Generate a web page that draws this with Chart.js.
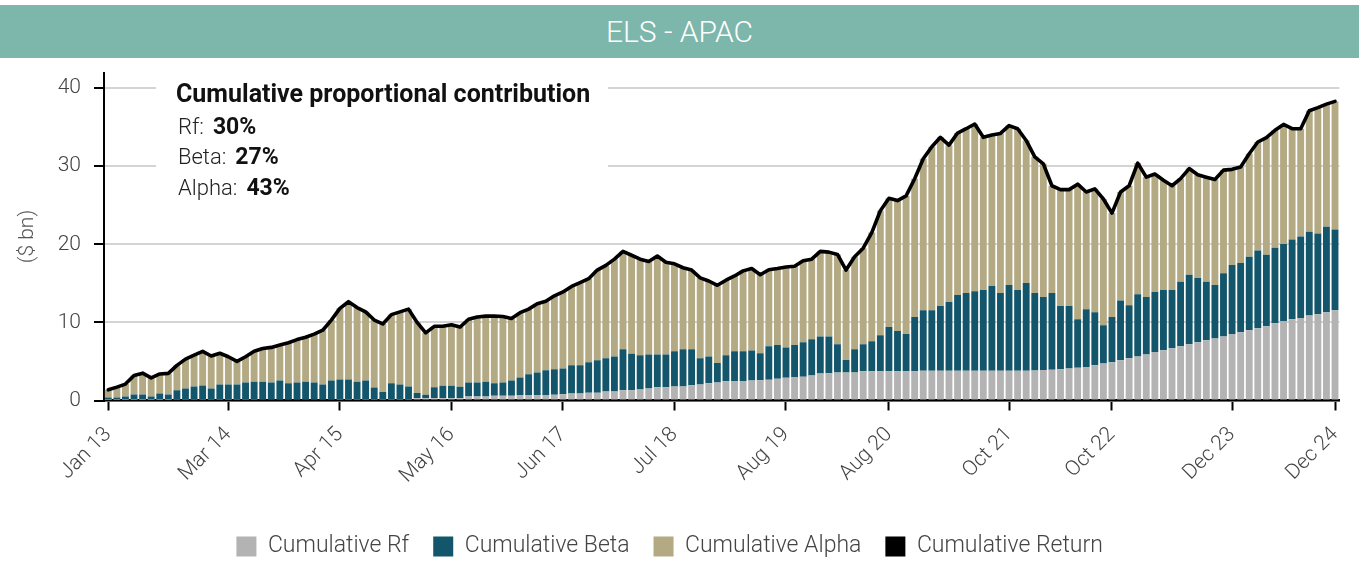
<!DOCTYPE html>
<html><head><meta charset="utf-8">
<script src="https://cdn.jsdelivr.net/npm/chart.js@4.4.1/dist/chart.umd.min.js"></script>
<style>
html,body{margin:0;padding:0;width:1359px;height:563px;overflow:hidden;background:#fff;font-family:Roboto,sans-serif;}
#banner{position:absolute;left:0;top:5px;width:1359px;height:53px;background:#7db6ab;color:#fff;font:300 30px Roboto,sans-serif;text-align:center;line-height:53px;}
#wrap{position:absolute;left:0;top:58px;width:1359px;height:510px;}
</style></head><body>
<div id="banner">ELS - APAC</div>
<div id="wrap"><canvas id="c" width="1359" height="510"></canvas></div>
<script>
const monthNames = ['Jan','Feb','Mar','Apr','May','Jun','Jul','Aug','Sep','Oct','Nov','Dec'];
const years = ['13','14','15','16','17','18','19','20','21','22','23','24'];
const categories = [];
years.forEach(y => monthNames.forEach(m => categories.push(m + ' ' + y)));
const tickLabels = ['Jan 13','Mar 14','Apr 15','May 16','Jun 17','Jul 18','Aug 19','Aug 20','Oct 21','Oct 22','Dec 23','Dec 24'];

const rf = [
0.05,0.05,0.05,0.05,0.05,0.05,0.05,0.05,0.1,0.1,0.1,0.1,
0.1,0.1,0.1,0.1,0.1,0.1,0.15,0.15,0.15,0.15,0.15,0.15,
0.15,0.15,0.15,0.2,0.2,0.2,0.2,0.2,0.2,0.2,0.2,0.2,
0.3,0.3,0.3,0.3,0.3,0.3,0.5,0.5,0.5,0.6,0.6,0.6,
0.7,0.7,0.7,0.7,0.75,0.8,0.9,0.9,1.0,1.0,1.15,1.15,
1.3,1.3,1.4,1.55,1.7,1.7,1.8,1.8,1.95,2.05,2.2,2.3,
2.45,2.5,2.5,2.55,2.6,2.65,2.8,2.9,3.0,3.05,3.2,3.45,
3.5,3.6,3.6,3.6,3.75,3.75,3.75,3.75,3.75,3.75,3.75,3.8,
3.8,3.8,3.8,3.8,3.8,3.8,3.8,3.8,3.8,3.8,3.8,3.8,
3.85,3.9,3.95,4.0,4.1,4.2,4.3,4.5,4.75,4.9,5.15,5.4,
5.65,5.9,6.2,6.45,6.7,6.95,7.2,7.45,7.7,7.95,8.2,8.5,
8.75,9.0,9.25,9.5,9.9,10.15,10.4,10.55,10.9,11.05,11.3,11.55];

const beta = [
0.34,0.34,0.46,0.72,0.72,0.46,0.85,0.72,1.2,1.45,1.7,1.83,
1.45,1.96,1.96,1.96,2.2,2.3,2.25,2.15,2.4,2.05,2.15,2.25,
2.15,1.91,2.4,2.5,2.5,2.2,2.35,1.45,0.9,2.0,1.86,1.6,
0.65,0.43,1.4,1.6,1.6,1.45,1.8,1.8,1.9,1.6,1.7,1.97,
2.26,2.65,2.9,3.16,3.25,3.3,3.6,3.6,3.9,4.14,4.25,4.5,
5.26,4.7,4.4,4.35,4.2,4.2,4.5,4.75,4.6,3.35,3.45,2.5,
3.35,3.8,3.8,3.85,3.44,4.3,4.3,3.9,4.1,4.41,4.65,4.75,
4.7,3.6,1.6,2.96,3.45,3.85,4.6,5.65,5.15,4.75,6.95,7.75,
7.75,8.3,8.8,9.7,9.95,10.2,10.35,10.85,9.95,11.0,10.35,11.25,
9.9,9.35,9.8,8.1,8.0,6.2,7.4,6.8,4.9,5.8,7.65,6.8,
7.95,7.35,7.7,7.7,7.45,8.25,8.9,8.25,7.5,6.85,8.1,8.85,
8.85,9.4,9.95,9.15,9.65,9.9,10.2,10.45,10.7,10.35,10.95,10.35];

const alpha = [
0.98,1.32,1.59,2.43,2.73,2.39,2.5,2.7,3.2,3.75,4.0,4.37,
4.15,3.99,3.54,2.94,3.3,3.9,4.25,4.5,4.55,5.2,5.5,5.7,
6.2,6.94,7.75,9.1,9.95,9.5,8.8,8.65,8.7,8.8,9.29,9.9,
9.05,7.93,7.8,7.6,7.8,7.65,8.1,8.4,8.4,8.6,8.45,7.93,
8.29,8.35,8.8,8.84,9.4,9.8,10.1,10.6,10.7,11.56,11.9,12.45,
12.54,12.6,12.3,11.9,12.6,11.8,11.2,10.45,10.15,10.3,9.65,9.95,
9.6,9.65,10.3,10.5,10.06,9.8,9.8,10.3,10.1,10.44,10.25,10.9,
10.8,11.5,11.5,11.84,12.3,13.9,15.95,16.5,16.7,17.7,17.7,19.4,
20.95,21.6,20.1,20.75,21.05,21.4,19.55,19.35,20.45,20.4,20.65,18.25,
17.45,17.05,13.75,14.9,14.9,17.3,15.0,15.8,16.15,13.3,13.9,15.3,
16.8,15.35,15.1,14.05,13.35,13.2,13.6,13.2,13.4,13.5,13.2,12.25,
12.3,13.2,13.9,15.0,15.05,15.3,14.2,13.8,15.5,16.1,15.7,16.4];

const ret = [
1.37,1.71,2.1,3.2,3.5,2.9,3.4,3.47,4.5,5.3,5.8,6.3,
5.7,6.05,5.6,5.0,5.6,6.3,6.65,6.8,7.1,7.4,7.8,8.1,
8.5,9.0,10.3,11.8,12.65,11.9,11.35,10.3,9.8,11.0,11.35,11.7,
10.0,8.66,9.5,9.5,9.7,9.4,10.4,10.7,10.8,10.8,10.75,10.5,
11.25,11.7,12.4,12.7,13.4,13.9,14.6,15.1,15.6,16.7,17.3,18.1,
19.1,18.6,18.1,17.8,18.5,17.7,17.5,17.0,16.7,15.7,15.3,14.75,
15.4,15.95,16.6,16.9,16.1,16.75,16.9,17.1,17.2,17.9,18.1,19.1,
19.0,18.7,16.7,18.4,19.5,21.5,24.3,25.9,25.6,26.2,28.4,30.95,
32.5,33.7,32.7,34.25,34.8,35.4,33.7,34.0,34.2,35.2,34.8,33.3,
31.2,30.3,27.5,27.0,27.0,27.7,26.7,27.1,25.8,24.0,26.7,27.5,
30.4,28.6,29.0,28.2,27.5,28.4,29.7,28.9,28.6,28.3,29.5,29.6,
29.9,31.6,33.1,33.65,34.6,35.35,34.8,34.8,37.1,37.5,37.95,38.3];

const yTicks = [0,10,20,30,40];
const annTitle = 'Cumulative proportional contribution';
const annLabels = ['Rf:','Beta:','Alpha:'];
const annValues = ['30%','27%','43%'];

const FONT = 'Roboto';
const TOP = 58;

const annot = {
  id: 'annot',
  beforeDatasetsDraw(chart) {
    const ctx = chart.ctx;
    ctx.save();
    ctx.fillStyle = '#fff';
    ctx.fillRect(156, 80 - TOP, 452, 125);
    ctx.textAlign = 'left';
    ctx.textBaseline = 'middle';
    ctx.fillStyle = '#111';
    ctx.font = 'bold 25px ' + FONT;
    ctx.fillText(annTitle, 176, 96 - TOP);
    const ys = [128, 158, 189];
    annLabels.forEach((lab, i) => {
      ctx.font = '300 22px ' + FONT;
      ctx.fillStyle = '#222';
      ctx.fillText(lab, 178, ys[i] - TOP);
      const w = ctx.measureText(lab).width + 9;
      ctx.font = 'bold 23px ' + FONT;
      ctx.fillStyle = '#111';
      ctx.fillText(annValues[i], 178 + w, ys[i] - TOP);
    });
    ctx.restore();
  }
};

new Chart(document.getElementById('c'), {
  data: {
    labels: categories,
    datasets: [
      {type:'bar', label:'Cumulative Rf', data: rf, backgroundColor:'#b3b3b3', stack:'s', order:1},
      {type:'bar', label:'Cumulative Beta', data: beta, backgroundColor:'#13566b', stack:'s', order:1},
      {type:'bar', label:'Cumulative Alpha', data: alpha, backgroundColor:'#b3a983', stack:'s', order:1},
      {type:'line', label:'Cumulative Return', data: ret, borderColor:'#000', backgroundColor:'#000',
       borderWidth:3.6, pointRadius:0, pointHoverRadius:0, tension:0, stack:'r', order:0,
       borderJoinStyle:'round', borderCapStyle:'round'}
    ]
  },
  options: {
    responsive: false,
    animation: false,
    devicePixelRatio: 1,
    layout: {padding: {left: 0, right: 19.7, top: 14.5, bottom: 0}},
    datasets: {bar: {categoryPercentage: 1, barPercentage: 0.8}},
    plugins: {
      tooltip: {enabled: false},
      legend: {
        position: 'bottom',
        labels: {
          boxWidth: 20, boxHeight: 20, padding: 24, color: '#444',
          font: {family: FONT, size: 23, weight: '300'},
          sort: (a, b) => a.datasetIndex - b.datasetIndex,
          generateLabels(chart) {
            const items = Chart.defaults.plugins.legend.labels.generateLabels(chart);
            items.forEach(it => {
              const ds = chart.data.datasets[it.datasetIndex];
              it.fillStyle = ds.type === 'line' ? '#000' : ds.backgroundColor;
              it.strokeStyle = it.fillStyle;
              it.lineWidth = 0;
            });
            return items;
          }
        }
      }
    },
    scales: {
      x: {
        stacked: true,
        offset: true,
        grid: {display: true, drawOnChartArea: false, drawTicks: true, tickLength: 10, tickColor: '#000', tickWidth: 2, offset: false},
        border: {display: true, color: '#000', width: 2.5},
        ticks: {
          autoSkip: false, minRotation: 45, maxRotation: 45, color: '#444', padding: 12,
          font: {family: FONT, size: 21, weight: '300'},
          callback(v) { return this.getLabelForValue(v); }
        },
        afterBuildTicks(s) { s.ticks = s.ticks.filter(t => tickLabels.includes(categories[t.value])); },
        afterFit(s) { s.height = 110.5; s.paddingRight = 0; }
      },
      y: {
        stacked: true,
        min: 0, max: 42,
        ticks: {stepSize: 10, color: '#444', padding: 13, font: {family: FONT, size: 21, weight: '300'}},
        afterBuildTicks(s) { s.ticks = yTicks.map(v => ({value: v})); },
        afterFit(s) { s.width = 104; s.paddingTop = 0; s.paddingBottom = 0; },
        grid: {color: '#d4d4d4', lineWidth: 2, tickColor: '#000', tickLength: 10, tickWidth: 2},
        border: {display: true, color: '#000', width: 2},
        title: {display: true, text: '($ bn)', color: '#555', font: {family: FONT, size: 21, weight: '300'}, padding: {top: 15, bottom: 0}}
      }
    }
  },
  plugins: [annot]
});
</script>
</body></html>
